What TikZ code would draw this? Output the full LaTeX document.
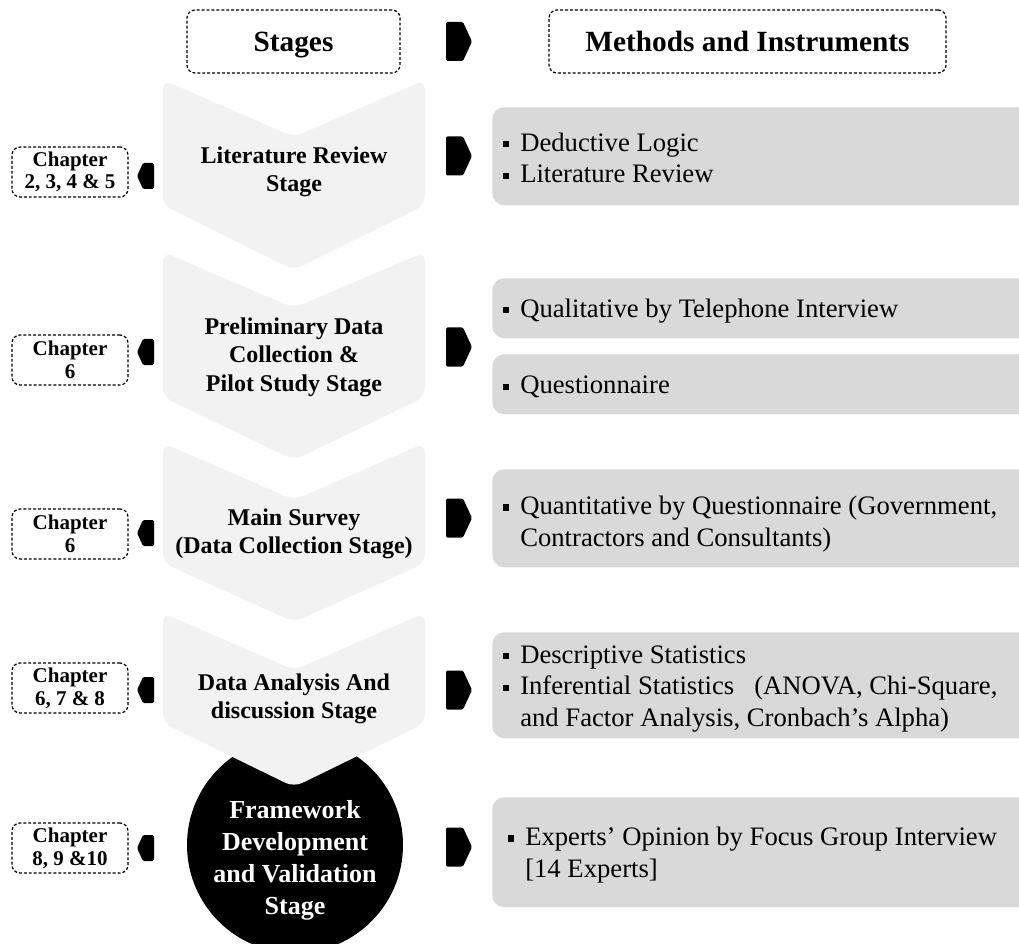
\documentclass[tikz,border=0pt]{standalone}
\usepackage{fontspec}
\setmainfont{Liberation Serif}
% square bullet with a fixed-width slot, and the matching hanging indent
\newcommand\sqbul{\makebox[12.75pt][l]{\rule[3pt]{4.6pt}{4.6pt}}}
\newcommand\hang{\hspace*{12.75pt}}
\begin{document}
\begin{tikzpicture}[x=0.75pt,y=-0.75pt,
  dotbox/.style={draw=black, line width=0.9pt, dash pattern=on 2.2pt off 1.5pt,
    rounded corners=6pt, inner sep=0pt, align=center},
  hdrbox/.style={dotbox, minimum width=#1, minimum height=47.25pt,
    text depth=0pt, font=\fontsize{22}{26}\selectfont\bfseries},
  chapbox/.style={dotbox, minimum width=87pt, minimum height=37.5pt,
    font=\fontsize{15.75}{17}\selectfont\bfseries},
  stagetxt/.style={align=center, inner sep=0pt,
    font=\fontsize{18}{21.4}\selectfont\bfseries},
  methbox/.style={fill=methgray, rounded corners=9pt, anchor=north west,
    minimum width=411pt, minimum height=#1, inner sep=0pt},
  methtxt/.style={anchor=west, align=left, inner sep=0pt,
    font=\fontsize{20}{23.8}\selectfont},
  chev/.style={fill=chevgray, rounded corners=7pt},
  rarrow/.pic={\fill[black, rounded corners=1pt]
    (-13,-19.5) -- (4,-19.5) -- (13,0) -- (4,19.5) -- (-13,19.5) -- cycle;},
  larrow/.pic={\fill[black, rounded corners=1pt]
    (8.5,-13) -- (-2.5,-13) -- (-8.5,0) -- (-2.5,13) -- (8.5,13) -- cycle;}
]
\definecolor{chevgray}{HTML}{F2F2F2}
\definecolor{methgray}{HTML}{D9D9D9}
\useasboundingbox (0,0) rectangle (1019,944);
\clip (0,0) rectangle (1019,944);

% column headings
\node[hdrbox=159.75pt] (hstages) at (293.5,41.5) {Stages};
\node[hdrbox=297.75pt] (hmethods) at (747.5,41.5) {Methods and Instruments};
\pic at (459,41.5) {rarrow};

% final stage: black disc, partly covered by the chevron above it
\fill[black] (295,845) circle (108);
\node[align=center, inner sep=0pt, text=white,
  font=\fontsize{19.5}{24}\selectfont\bfseries] (s5) at (295,860)
  {Framework\\Development\\and Validation\\Stage};

% stage chevrons
\fill[chev] (163,80) -- (294,137) -- (425,80) -- (425,205) -- (294,270) -- (163,205) -- cycle;
\fill[chev] (163,252) -- (294,308) -- (425,252) -- (425,397) -- (294,460) -- (163,397) -- cycle;
\fill[chev] (163,443) -- (294,500) -- (425,443) -- (425,563) -- (294,622) -- (163,563) -- cycle;
\fill[chev] (163,613) -- (294,670) -- (425,613) -- (425,723) -- (294,787) -- (163,723) -- cycle;

\node[stagetxt] (s1) at (294,172) {Literature Review\\Stage};
\node[stagetxt] (s2) at (294,357) {Preliminary Data\\Collection \&\\Pilot Study Stage};
\node[stagetxt] (s3) at (294,534) {Main Survey\\(Data Collection Stage)};
\node[stagetxt] (s4) at (294,699) {Data Analysis And\\discussion Stage};

% chapter references
\node[chapbox] (c1) at (70,172) {Chapter\\2, 3, 4 \& 5};
\node[chapbox] (c2) at (70,360) {Chapter\\6};
\node[chapbox] (c3) at (70,534) {Chapter\\6};
\node[chapbox] (c4) at (70,688) {Chapter\\6, 7 \& 8};
\node[chapbox] (c5) at (70,848) {Chapter\\8, 9 \&10};

\pic at (145.5,176) {larrow};
\pic at (145.5,352) {larrow};
\pic at (145.5,533) {larrow};
\pic at (145.5,690) {larrow};
\pic at (145.5,848) {larrow};

% arrows towards the methods column
\pic at (459,156) {rarrow};
\pic at (459,347) {rarrow};
\pic at (459,518) {rarrow};
\pic at (459,690) {rarrow};
\pic at (459,847) {rarrow};

% methods and instruments
\node[methbox=73.5pt] (m1) at (492,107) {};
\node[methbox=45pt] (m2a) at (492,278) {};
\node[methbox=45pt] (m2b) at (492,354) {};
\node[methbox=73.5pt] (m3) at (492,469) {};
\node[methbox=79.5pt] (m4) at (492,632) {};
\node[methbox=82.5pt] (m5) at (492,797) {};

\node[methtxt] (t1) at (503,158) {\sqbul Deductive Logic\\\sqbul Literature Review};
\node[methtxt] (t2a) at (503,311) {\sqbul Qualitative by Telephone Interview};
\node[methtxt] (t2b) at (503,387) {\sqbul Questionnaire};
\node[methtxt] (t3) at (503,524) {\sqbul Quantitative by Questionnaire (Government,\\\hang Contractors and Consultants)};
\node[methtxt] (t4) at (503,689) {\sqbul Descriptive Statistics\\\sqbul Inferential Statistics\ \ \ (ANOVA, Chi-Square,\\\hang and Factor Analysis, Cronbach’s Alpha)};
\node[methtxt] (t5) at (508,855) {\sqbul Experts’ Opinion by Focus Group Interview\\\hang [14 Experts]};
\end{tikzpicture}
\end{document}
